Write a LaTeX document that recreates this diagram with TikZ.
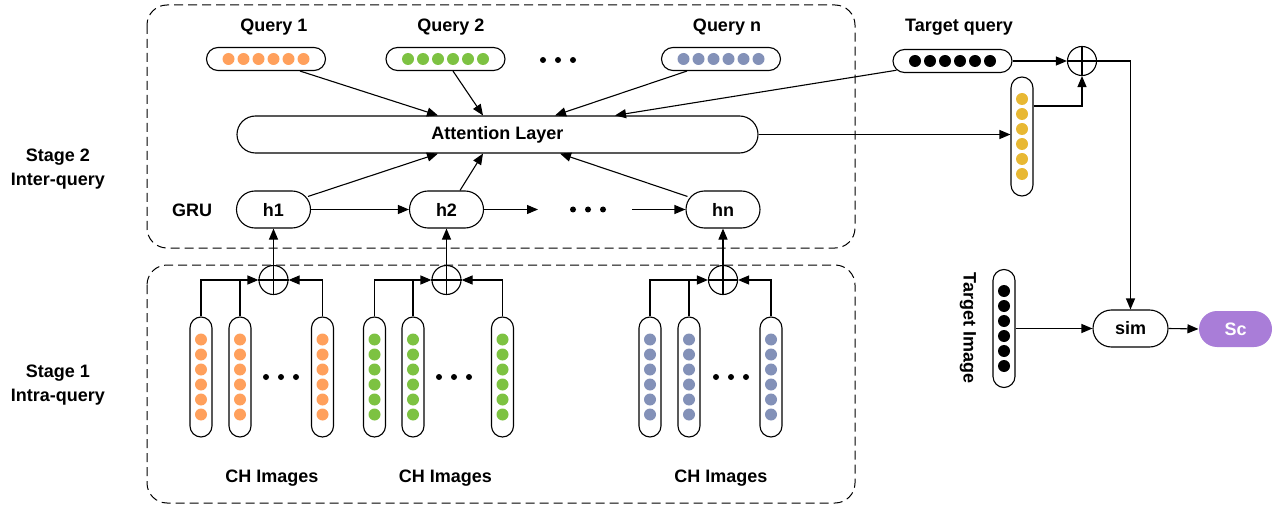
\documentclass[tikz,border=0pt]{standalone}
\usepackage{fontspec}
\setmainfont{Liberation Sans}
\usetikzlibrary{arrows.meta,calc}
\definecolor{dotorange}{HTML}{FFA05C}
\definecolor{dotgreen}{HTML}{7DC242}
\definecolor{dotblue}{HTML}{8391B8}
\definecolor{dotyellow}{HTML}{E8B833}
\definecolor{scpurple}{HTML}{A97DD8}

% six dots along a horizontal or vertical pill
\newcommand\mkrowdots[2]{\foreach \i in {0,...,5} \fill[#2] ($(#1.center)+(-37.5+15*\i,0)$) circle (6pt);}
\newcommand\mkcoldots[2]{\foreach \i in {0,...,5} \fill[#2] ($(#1.center)+(0,-37.5+15*\i)$) circle (6pt);}
% three small dots standing for "and so on"
\newcommand\mkellipsis[1]{\foreach \d in {-15,0,15} \fill ($(#1)+(\d,0)$) circle (3pt);}

\begin{document}
\begin{tikzpicture}[x=1pt,y=-1pt,
  font=\fontsize{18}{22}\selectfont\bfseries, line width=1.1pt,
  hpill/.style={draw, rectangle, rounded corners=11.5pt, minimum width=119pt, minimum height=23pt, inner sep=0},
  vpill/.style={draw, rectangle, rounded corners=11pt, minimum width=22pt, minimum height=120pt, inner sep=0},
  state/.style={draw, rectangle, rounded corners=18.5pt, minimum width=74pt, minimum height=37pt, inner sep=0},
  sumnode/.style={draw, circle, minimum size=29pt, inner sep=0},
  conn/.style={-{Triangle[length=11pt,width=9pt]}},
  stagebox/.style={draw, dash pattern=on 9pt off 5pt, rounded corners=20pt, line width=1pt},
  lbl/.style={inner sep=0, align=center}
]
\useasboundingbox (0,0) rectangle (1278,508);

% dashed stage frames
\draw[stagebox] (147,5) rectangle (855,248);
\draw[stagebox] (147,265) rectangle (855,503);

% stage captions
\node[lbl, font=\fontsize{18}{24}\selectfont\bfseries] (st2) at (58,169) {Stage 2\\Inter-query};
\node[lbl, font=\fontsize{18}{24}\selectfont\bfseries] (st1) at (58,385) {Stage 1\\Intra-query};

% query embeddings
\node[lbl] (lq1) at (274,27) {Query 1};
\node[lbl] (lq2) at (451,27) {Query 2};
\node[lbl] (lqn) at (727,27) {Query n};
\node[lbl] (ltq) at (959,27) {Target query};
\node[hpill] (q1) at (266,59) {};
\node[hpill] (q2) at (445.5,59) {};
\node[hpill] (qn) at (721,59) {};
\node[hpill] (tq) at (952.5,61) {};
\mkrowdots{q1}{dotorange}
\mkrowdots{q2}{dotgreen}
\mkrowdots{qn}{dotblue}
\mkrowdots{tq}{black}
\coordinate (e1) at (558,60);
\mkellipsis{e1}

% attention layer and GRU states
\node[state, minimum width=521pt] (att) at (497.5,134.5) {Attention Layer};
\node[lbl] (gru) at (192,210) {GRU};
\node[state] (h1) at (273.5,209.5) {h1};
\node[state] (h2) at (446.5,209.5) {h2};
\node[state] (hn) at (723,209.5) {hn};
\coordinate (e2) at (588,209.5);
\mkellipsis{e2}
\coordinate (g1) at (538,209.5);
\coordinate (g2) at (632,209.5);
\draw[conn] (h1.east) -- (h2.west);
\draw[conn] (h2.east) -- (g1);
\draw[conn] (g2) -- (hn.west);

% inputs of the attention layer
\draw[conn] ([xshift=34pt]q1.south) -- ([xshift=-59.5pt]att.north);
\draw[conn] ([xshift=7.5pt]q2.south) -- ([xshift=-14.5pt]att.north);
\draw[conn] ([xshift=-34pt]qn.south) -- ([xshift=57.5pt]att.north);
\draw[conn] ([xshift=4pt,yshift=2.8pt]tq.south west) -- ([xshift=117.5pt]att.north);
\draw[conn] ([xshift=-3pt,yshift=-6pt]h1.north east) -- ([xshift=-59.5pt]att.south);
\draw[conn] ([xshift=13.5pt]h2.north) -- ([xshift=-14.5pt]att.south);
\draw[conn] ([xshift=2pt,yshift=-6pt]hn.north west) -- ([xshift=62.5pt]att.south);

% attention output, fused with the target query
\node[vpill, minimum height=119pt] (yp) at (1022,136.5) {};
\mkcoldots{yp}{dotyellow}
\draw[conn] (att.east) -- (att.east -| yp.west);
\node[sumnode] (op) at (1082,61) {};
\draw (op.west) -- (op.east);
\draw[conn] (tq.east) -- (op.west);
\draw[conn] ([yshift=30.5pt]yp.east) -| (op.south);
\draw (op.south) -- (op.north);

% similarity with the target image
\node[state, minimum width=75pt] (sim) at (1130.5,328.5) {sim};
\node[inner sep=0, fill=scpurple, rounded corners=18pt, minimum width=73pt, minimum height=36pt, text=white] (sc) at (1235.5,329) {Sc};
\node[vpill, minimum height=118pt] (ti) at (1004,328.5) {};
\mkcoldots{ti}{black}
\node[lbl, rotate=-90] (til) at (968,328) {Target Image};
\draw[conn] (op.east) -| (sim.north);
\draw[conn] (ti.east) -- (sim.west);
\draw[conn] (sim.east) -- (sc.west);

% stage 1: click-history images pooled per query
\foreach \xa/\xb/\xc/\xo/\xe/\xl/\hh/\col/\n in {
    201/240/322.5/273.5/281/272/h1/dotorange/1,
    374.5/413/502.5/446.5/454/445.5/h2/dotgreen/2,
    650/689/771/723/731/721/hn/dotblue/3}{
  \node[vpill] (p\n a) at (\xa,377) {};
  \node[vpill] (p\n b) at (\xb,377) {};
  \node[vpill] (p\n c) at (\xc,377) {};
  \mkcoldots{p\n a}{\col}
  \mkcoldots{p\n b}{\col}
  \mkcoldots{p\n c}{\col}
  \coordinate (pe\n) at (\xe,377);
  \mkellipsis{pe\n}
  \node[sumnode] (s\n) at (\xo,280) {};
  \draw (s\n.west) -- (s\n.east);
  \draw[conn] (s\n.south) -- (s\n.south |- \hh.south);
  \draw[conn] (p\n a.north) |- (s\n.west);
  \draw (p\n b.north) -- (p\n b.north |- s\n.west);
  \draw[conn] (p\n c.north) |- (s\n.east);
  \node[lbl] (ch\n) at (\xl,478) {CH Images};
}
\end{tikzpicture}
\end{document}
